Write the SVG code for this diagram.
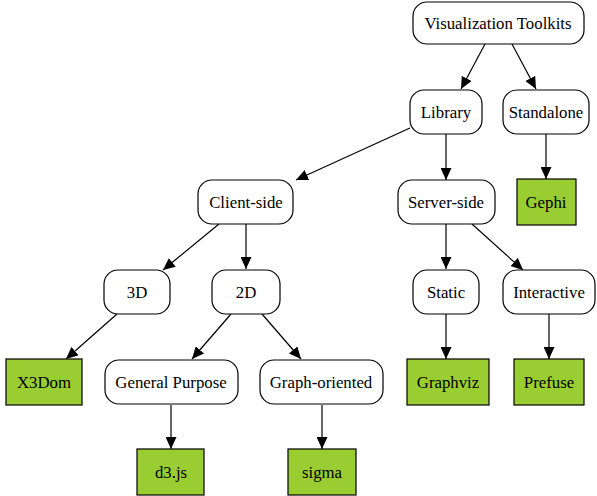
<svg xmlns="http://www.w3.org/2000/svg" width="597" height="496" viewBox="0 0 597 496">
<style>
.n rect{fill:#fff;stroke:#000;stroke-width:1.2}
.g rect{fill:#9acd32;stroke:#000;stroke-width:1.2}
text{font-family:"Liberation Serif","Times New Roman",serif;font-size:16.8px;text-anchor:middle;dominant-baseline:central;fill:#000}
.e line{stroke:#000;stroke-width:1.2}
</style>
<defs>
<marker id="a" markerUnits="userSpaceOnUse" markerWidth="13" markerHeight="11" refX="12" refY="5.5" orient="auto">
<path d="M0,0 L12,5.5 L0,11 Z" fill="#000"/>
</marker>
</defs>
<g class="e">
<line x1="485" y1="44" x2="461" y2="89" marker-end="url(#a)"/>
<line x1="512" y1="44" x2="536" y2="89" marker-end="url(#a)"/>
<line x1="410" y1="128" x2="296" y2="180" marker-end="url(#a)"/>
<line x1="446" y1="134" x2="446" y2="180" marker-end="url(#a)"/>
<line x1="546" y1="134" x2="546" y2="179" marker-end="url(#a)"/>
<line x1="219" y1="224" x2="163" y2="270" marker-end="url(#a)"/>
<line x1="246" y1="224" x2="246" y2="269" marker-end="url(#a)"/>
<line x1="446" y1="224" x2="446" y2="269" marker-end="url(#a)"/>
<line x1="472" y1="224" x2="523" y2="270" marker-end="url(#a)"/>
<line x1="117" y1="314" x2="66" y2="359" marker-end="url(#a)"/>
<line x1="231" y1="314" x2="192" y2="359" marker-end="url(#a)"/>
<line x1="262" y1="314" x2="301" y2="359" marker-end="url(#a)"/>
<line x1="446" y1="314" x2="446" y2="359" marker-end="url(#a)"/>
<line x1="549" y1="314" x2="549" y2="359" marker-end="url(#a)"/>
<line x1="171" y1="405" x2="171" y2="449" marker-end="url(#a)"/>
<line x1="322" y1="405" x2="322" y2="449" marker-end="url(#a)"/>
</g>
<g id="vt" class="n"><rect x="413" y="2" width="171" height="42" rx="14"/><text x="498" y="23">Visualization Toolkits</text></g>
<g id="library" class="n"><rect x="410" y="90" width="72" height="44" rx="14"/><text x="446" y="112">Library</text></g>
<g id="standalone" class="n"><rect x="503" y="90" width="86" height="44" rx="14"/><text x="546" y="112">Standalone</text></g>
<g id="gephi" class="g"><rect x="517" y="179" width="59" height="46"/><text x="546" y="202">Gephi</text></g>
<g id="client" class="n"><rect x="198" y="180" width="95" height="44" rx="14"/><text x="246" y="202">Client-side</text></g>
<g id="server" class="n"><rect x="398" y="180" width="97" height="44" rx="14"/><text x="446" y="202">Server-side</text></g>
<g id="d3d" class="n"><rect x="104" y="270" width="66" height="44" rx="14"/><text x="137" y="292">3D</text></g>
<g id="d2d" class="n"><rect x="212" y="270" width="68" height="44" rx="14"/><text x="246" y="292">2D</text></g>
<g id="static" class="n"><rect x="413" y="270" width="66" height="44" rx="14"/><text x="446" y="292">Static</text></g>
<g id="interactive" class="n"><rect x="503" y="270" width="92" height="44" rx="14"/><text x="549" y="292">Interactive</text></g>
<g id="x3dom" class="g"><rect x="6" y="359" width="76" height="46"/><text x="44" y="382">X3Dom</text></g>
<g id="gp" class="n"><rect x="105" y="360" width="133" height="44" rx="14"/><text x="171" y="382">General Purpose</text></g>
<g id="go" class="n"><rect x="260" y="360" width="123" height="44" rx="14"/><text x="321" y="382">Graph-oriented</text></g>
<g id="graphviz" class="g"><rect x="407" y="359" width="82" height="46"/><text x="448" y="382">Graphviz</text></g>
<g id="prefuse" class="g"><rect x="514" y="359" width="70" height="46"/><text x="549" y="382">Prefuse</text></g>
<g id="d3js" class="g"><rect x="137" y="449" width="67" height="46"/><text x="171" y="472">d3.js</text></g>
<g id="sigma" class="g"><rect x="288" y="449" width="68" height="46"/><text x="322" y="472">sigma</text></g>
</svg>
